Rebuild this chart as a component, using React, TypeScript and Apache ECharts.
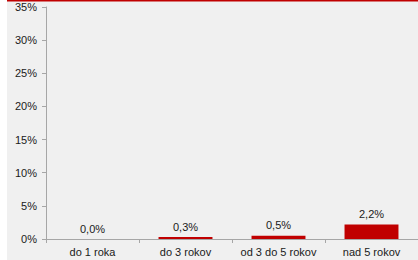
import React, { useEffect, useRef } from "react";
import * as echarts from "echarts";

const categories = ["do 1 roka", "do 3 rokov", "od 3 do 5 rokov", "nad 5 rokov"];
const values = [0.0, 0.3, 0.5, 2.2];
const yTicks = [0, 5, 10, 15, 20, 25, 30, 35];

export default function App() {
  const ref = useRef<HTMLDivElement>(null);
  useEffect(() => {
    if (!ref.current) return;
    const chart = echarts.init(ref.current, undefined, { renderer: "svg" });
    const font = "'Liberation Sans', Arial, sans-serif";
    chart.setOption({
      animation: false,
      backgroundColor: "#f0f0f0",
      textStyle: { fontFamily: font },
      graphic: [
        { type: "rect", left: 0, top: 0, shape: { x: 0, y: 0, width: 7, height: 260 }, style: { fill: "#ffffff" } },
        { type: "rect", shape: { x: 7, y: 0, width: 411, height: 1.5 }, style: { fill: "#c00000" } },
      ],
      grid: { left: 46, right: 0, top: 7, bottom: 21, containLabel: false },
      xAxis: {
        type: "category",
        data: categories,
        axisLine: { lineStyle: { color: "#a6a6a6", width: 1 } },
        axisTick: { show: true, alignWithLabel: false, length: 4, lineStyle: { color: "#a6a6a6" } },
        axisLabel: { color: "#1a1a1a", fontSize: 11, margin: 7, fontFamily: font, interval: 0 },
      },
      yAxis: {
        type: "value",
        min: yTicks[0],
        max: yTicks[yTicks.length - 1],
        interval: 5,
        splitLine: { show: false },
        axisLine: { show: true, lineStyle: { color: "#a6a6a6", width: 1 } },
        axisTick: { show: true, length: 4, lineStyle: { color: "#a6a6a6" } },
        axisLabel: { color: "#1a1a1a", fontSize: 11, margin: 9, fontFamily: font, formatter: (v: number) => `${v}%` },
      },
      series: [
        {
          type: "bar",
          data: values,
          barWidth: "58%",
          itemStyle: { color: "#c00000" },
          label: {
            show: true,
            position: "top",
            distance: 5,
            color: "#1a1a1a",
            fontSize: 11,
            fontFamily: font,
            formatter: (p: any) => `${p.value.toFixed(1).replace(".", ",")}%`,
          },
        },
      ],
    });
    return () => chart.dispose();
  }, []);
  return (
    <div
      ref={ref}
      style={{ position: "fixed", left: 0, top: 0, width: 418, height: 260 }}
    />
  );
}
